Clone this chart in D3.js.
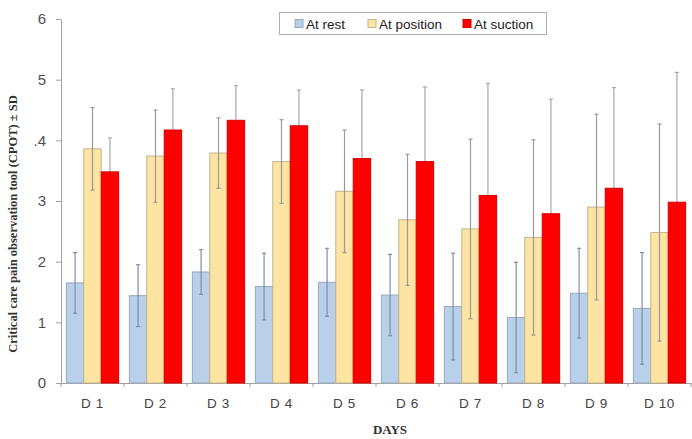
<!DOCTYPE html>
<html>
<head>
<meta charset="utf-8">
<script src="https://cdn.jsdelivr.net/npm/d3@7"></script>
<style>
  body { margin: 0; background: #fff; }
  svg { display: block; }
</style>
</head>
<body>
<div class="canvas"></div>
<script>
// data
const days = ["D 1", "D 2", "D 3", "D 4", "D 5", "D 6", "D 7", "D 8", "D 9", "D 10"];
const seriesNames = ["At rest", "At position", "At suction"];
const restMean = [1.65, 1.44, 1.83, 1.59, 1.66, 1.45, 1.26, 1.08, 1.48, 1.23];
const restSd = [0.50, 0.51, 0.37, 0.55, 0.56, 0.67, 0.88, 0.91, 0.74, 0.92];
const positionMean = [3.86, 3.74, 3.79, 3.65, 3.16, 2.69, 2.54, 2.40, 2.90, 2.48];
const positionSd = [0.68, 0.76, 0.58, 0.69, 1.01, 1.08, 1.48, 1.61, 1.53, 1.79];
const suctionMean = [3.48, 4.17, 4.33, 4.24, 3.70, 3.65, 3.09, 2.79, 3.21, 2.98];
const suctionSd = [0.56, 0.68, 0.57, 0.59, 1.13, 1.23, 1.85, 1.89, 1.66, 2.14];
const yTickValues = [0, 1, 2, 3, 4, 5, 6];
const yTickLabels = ["0", "1", "2", "3", ".4", "5", "6"];

const dims = {width: 692, height: 439};
const margin = {left: 61, right: 1, top: 19, bottom: 56};
const colors = {fill: ["#b9d0ea", "#fde4a2", "#ff0000"], stroke: ["#9aa9bb", "#c4b48a", "#d40000"]};

const svg = d3.select(".canvas")
  .append("svg")
  .attr("width", dims.width)
  .attr("height", dims.height);

const rows = days.map((d, i) => ({
  day: d,
  vals: [
    {s: 0, mean: restMean[i], sd: restSd[i]},
    {s: 1, mean: positionMean[i], sd: positionSd[i]},
    {s: 2, mean: suctionMean[i], sd: suctionSd[i]}
  ]
}));

const x0 = d3.scaleBand().domain(days)
  .range([margin.left, dims.width - margin.right])
  .paddingInner(0.17).paddingOuter(0.085);
const x1 = d3.scaleBand().domain([0, 1, 2]).range([0, x0.bandwidth()]);
const y = d3.scaleLinear().domain([0, 6]).range([dims.height - margin.bottom, margin.top]);

// y axis
const yAxis = svg.append("g")
  .attr("transform", `translate(${margin.left},0)`)
  .call(d3.axisLeft(y).tickValues(yTickValues).tickSize(5).tickSizeOuter(0)
    .tickFormat((d, i) => yTickLabels[i]));
yAxis.select(".domain").attr("stroke", "#a0a0a0");
yAxis.selectAll(".tick line").attr("stroke", "#a0a0a0");
yAxis.selectAll("text")
  .attr("x", -15)
  .attr("fill", "#505050")
  .style("font-family", "Liberation Sans, Arial, sans-serif")
  .style("font-size", "15px");

// x axis baseline + boundary ticks
const xAxis = svg.append("g")
  .attr("transform", `translate(0,${y(0)})`)
  .call(d3.axisBottom(x0).tickSize(0).tickSizeOuter(0));
xAxis.select(".domain").attr("stroke", "#a0a0a0");
xAxis.selectAll("text")
  .attr("dy", "1.6em")
  .attr("fill", "#444")
  .style("font-family", "Liberation Sans, Arial, sans-serif")
  .style("font-size", "13.5px")
  .style("letter-spacing", "0.6px");
const step = x0.step();
svg.append("g").selectAll("line")
  .data(days.concat(["end"]))
  .join("line")
  .attr("x1", (d, i) => margin.left + i * step)
  .attr("x2", (d, i) => margin.left + i * step)
  .attr("y1", y(0))
  .attr("y2", y(0) + 4)
  .attr("stroke", "#a0a0a0");

const groups = svg.append("g").selectAll("g")
  .data(rows)
  .join("g")
  .attr("transform", d => `translate(${x0(d.day)},0)`);

const errLine = (sel, color) => {
  sel.append("line")
    .attr("x1", d => x1(d.s) + x1.bandwidth() / 2)
    .attr("x2", d => x1(d.s) + x1.bandwidth() / 2)
    .attr("y1", d => y(d.mean - d.sd))
    .attr("y2", d => y(d.mean + d.sd))
    .attr("stroke", color).attr("stroke-width", 1.2);
  [1, -1].forEach(k => {
    sel.append("line")
      .attr("x1", d => x1(d.s) + x1.bandwidth() / 2 - 2)
      .attr("x2", d => x1(d.s) + x1.bandwidth() / 2 + 2)
      .attr("y1", d => y(d.mean + k * d.sd))
      .attr("y2", d => y(d.mean + k * d.sd))
      .attr("stroke", color).attr("stroke-width", 1.2);
  });
};

const bar = sel => sel.append("rect")
  .attr("x", d => x1(d.s))
  .attr("y", d => y(d.mean))
  .attr("width", x1.bandwidth())
  .attr("height", d => y(0) - y(d.mean))
  .attr("fill", d => colors.fill[d.s])
  .attr("stroke", d => colors.stroke[d.s])
  .attr("stroke-width", 1);

// rest and position bars, with their error bars on top
const lowBars = groups.selectAll("g.low").data(d => d.vals.slice(0, 2)).join("g").attr("class", "low");
bar(lowBars);
errLine(lowBars.filter(d => d.s === 0), "#7d8ea6");
errLine(lowBars.filter(d => d.s === 1), "#9a9a9a");

// suction: error bar behind the bar
const hiBars = groups.selectAll("g.hi").data(d => d.vals.slice(2)).join("g").attr("class", "hi");
errLine(hiBars, "#a8a8a8");
bar(hiBars);

// axis titles
svg.append("text")
  .attr("transform", `translate(17,${(y(0) + y(6)) / 2 + 23}) rotate(-90)`)
  .attr("text-anchor", "middle")
  .style("font-family", "Liberation Serif, Times New Roman, serif")
  .style("font-weight", "bold")
  .style("font-size", "12.5px")
  .attr("fill", "#333")
  .text("Critical care pain observation tool (CPOT) ± SD");

svg.append("text")
  .attr("x", 390).attr("y", 434)
  .attr("text-anchor", "middle")
  .style("font-family", "Liberation Serif, Times New Roman, serif")
  .style("font-weight", "bold")
  .style("font-size", "13px")
  .attr("fill", "#333")
  .text("DAYS");

// legend
const legend = svg.append("g");
legend.append("rect")
  .attr("x", 279.5).attr("y", 12.5).attr("width", 267).attr("height", 22)
  .attr("fill", "#fff").attr("stroke", "#b0b0b0");
const legendX = [295, 368, 463];
const items = legend.selectAll("g.item").data(seriesNames).join("g")
  .attr("transform", (d, i) => `translate(${legendX[i]},23.5)`);
items.append("rect")
  .attr("x", 0).attr("y", -4).attr("width", 8).attr("height", 8)
  .attr("fill", (d, i) => colors.fill[i])
  .attr("stroke", (d, i) => colors.stroke[i]);
items.append("text")
  .attr("x", 11).attr("y", 5)
  .style("font-family", "Liberation Sans, Arial, sans-serif")
  .style("font-size", "13.5px")
  .attr("fill", "#222")
  .text(d => d);
</script>
</body>
</html>
